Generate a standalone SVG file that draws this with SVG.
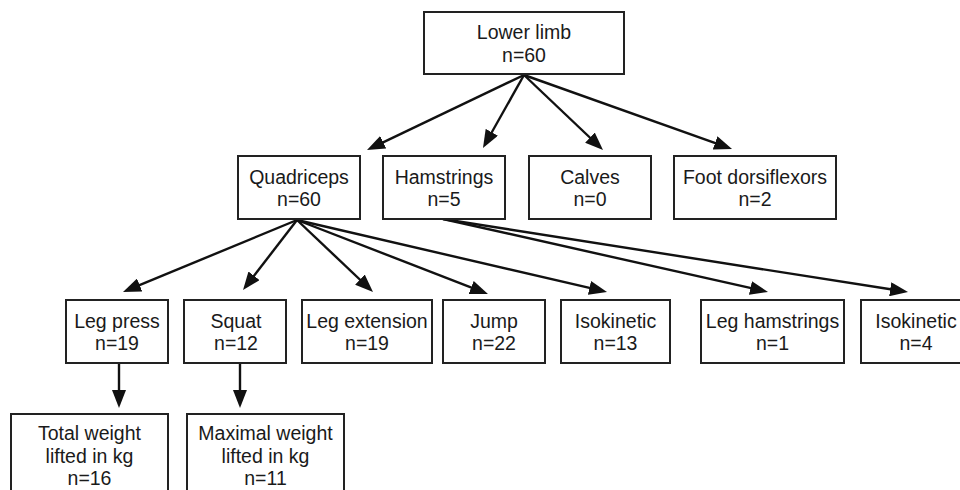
<svg xmlns="http://www.w3.org/2000/svg" width="960" height="490" viewBox="0 0 960 490">
<defs>
<style>
.box{fill:#fff;stroke:#222;stroke-width:2}
.t{font-family:"Liberation Sans",Arial,sans-serif;font-size:19.5px;fill:#1a1a1a;text-anchor:middle}
.c{stroke:#111;stroke-width:2.4;fill:none;marker-end:url(#ah)}
</style>
<marker id="ah" viewBox="0 0 18 14" refX="10" refY="7" markerWidth="18" markerHeight="14" markerUnits="userSpaceOnUse" orient="auto">
<path d="M0,0 L18,7 L0,14 z" fill="#111"/>
</marker>
</defs>
<rect width="960" height="490" fill="#fff"/>
<g id="connectors">
<line class="c" x1="524" y1="75" x2="374.2" y2="146.6"/>
<line class="c" x1="524" y1="75" x2="486.9" y2="141"/>
<line class="c" x1="524" y1="75" x2="597.2" y2="144.5"/>
<line class="c" x1="524" y1="75" x2="724.5" y2="146.3"/>
<line class="c" x1="297" y1="220" x2="130.4" y2="288.9"/>
<line class="c" x1="297" y1="220" x2="247.9" y2="283.7"/>
<line class="c" x1="297" y1="220" x2="367.2" y2="286.5"/>
<line class="c" x1="297" y1="220" x2="480.5" y2="291.1"/>
<line class="c" x1="297" y1="220" x2="599.2" y2="290.2"/>
<line class="c" x1="443" y1="219" x2="760.2" y2="290.2"/>
<line class="c" x1="443" y1="219" x2="900.1" y2="290.8"/>
<line class="c" x1="119" y1="363" x2="119" y2="400"/>
<line class="c" x1="240" y1="363" x2="240" y2="400"/>
</g>
<g id="lower-limb"><rect class="box" x="424" y="12" width="200" height="62"/><text class="t" x="524" y="39">Lower limb</text><text class="t" x="524" y="62">n=60</text></g>
<g id="quadriceps"><rect class="box" x="238" y="156" width="122" height="63"/><text class="t" x="299" y="184">Quadriceps</text><text class="t" x="299" y="206">n=60</text></g>
<g id="hamstrings"><rect class="box" x="383" y="156" width="122" height="63"/><text class="t" x="444" y="184">Hamstrings</text><text class="t" x="444" y="206">n=5</text></g>
<g id="calves"><rect class="box" x="529" y="156" width="122" height="63"/><text class="t" x="590" y="184">Calves</text><text class="t" x="590" y="206">n=0</text></g>
<g id="foot-dorsiflexors"><rect class="box" x="674" y="156" width="162" height="63"/><text class="t" x="755" y="184">Foot dorsiflexors</text><text class="t" x="755" y="206">n=2</text></g>
<g id="leg-press"><rect class="box" x="66" y="300" width="102" height="63"/><text class="t" x="117" y="328">Leg press</text><text class="t" x="117" y="350">n=19</text></g>
<g id="squat"><rect class="box" x="184" y="300" width="102" height="63"/><text class="t" x="236" y="328">Squat</text><text class="t" x="236" y="350">n=12</text></g>
<g id="leg-extension"><rect class="box" x="302" y="300" width="130" height="63"/><text class="t" x="367" y="328">Leg extension</text><text class="t" x="367" y="350">n=19</text></g>
<g id="jump"><rect class="box" x="443" y="300" width="102" height="63"/><text class="t" x="494" y="328">Jump</text><text class="t" x="494" y="350">n=22</text></g>
<g id="isokinetic-q"><rect class="box" x="561" y="300" width="109" height="63"/><text class="t" x="615.5" y="328">Isokinetic</text><text class="t" x="615.5" y="350">n=13</text></g>
<g id="leg-hamstrings"><rect class="box" x="701" y="300" width="143" height="63"/><text class="t" x="772.5" y="328">Leg hamstrings</text><text class="t" x="772.5" y="350">n=1</text></g>
<g id="isokinetic-h"><rect class="box" x="861" y="300" width="110" height="63"/><text class="t" x="916" y="328">Isokinetic</text><text class="t" x="916" y="350">n=4</text></g>
<g id="total-weight"><rect class="box" x="11" y="414" width="157" height="90"/><text class="t" x="89.5" y="440">Total weight</text><text class="t" x="89.5" y="463">lifted in kg</text><text class="t" x="89.5" y="485">n=16</text></g>
<g id="maximal-weight"><rect class="box" x="187" y="414" width="157" height="90"/><text class="t" x="265.5" y="440">Maximal weight</text><text class="t" x="265.5" y="463">lifted in kg</text><text class="t" x="265.5" y="485">n=11</text></g>
</svg>
